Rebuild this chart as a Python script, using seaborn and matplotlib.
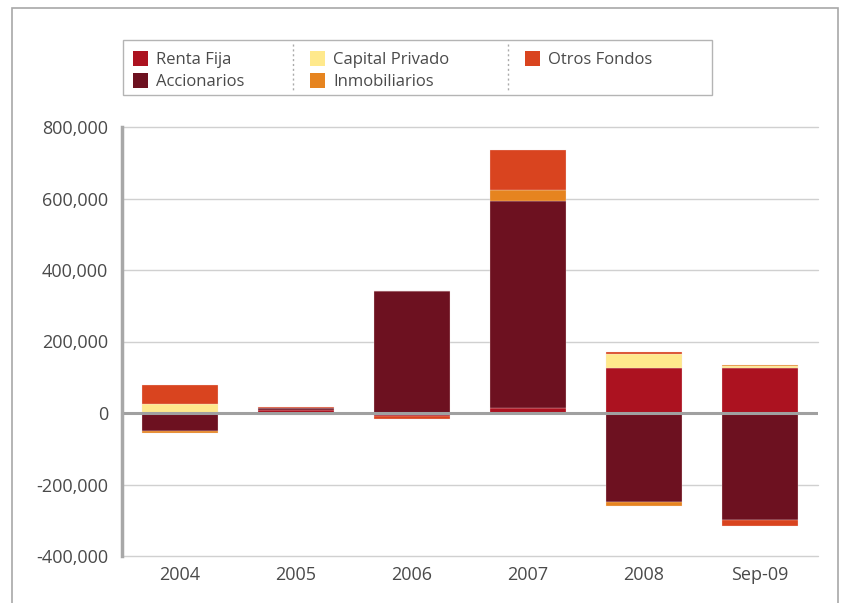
import matplotlib
matplotlib.use("Agg")
import matplotlib.pyplot as plt
import seaborn as sns
import numpy as np
import pandas as pd
from matplotlib.patches import Rectangle
from matplotlib.lines import Line2D
from matplotlib.ticker import FuncFormatter

categories = ["2004", "2005", "2006", "2007", "2008", "Sep-09"]
series_names = ["Renta Fija", "Accionarios", "Capital Privado", "Inmobiliarios", "Otros Fondos"]
renta_fija = [0, 8000, -8000, 14000, 126000, 127000]
accionarios = [-50000, 5000, 340000, 578000, -248000, -298000]
capital_privado = [26000, 0, 0, -2000, 39000, 4000]
inmobiliarios = [-6000, -6000, 0, 31000, -12000, 3000]
otros_fondos = [52000, 3000, -9000, 114000, 6000, -19000]
colors = ["#AC1220", "#6D1120", "#FFE98C", "#E6841F", "#D9441F"]
y_ticks = [-400000, -200000, 0, 200000, 400000, 600000, 800000]

sns.set_theme(style="white")
plt.rcParams['font.family'] = ['Open Sans', 'DejaVu Sans']

W, H = 845, 603
fig = plt.figure(figsize=(W / 100, H / 100), dpi=100)
ax = fig.add_axes([122 / W, 1 - 556 / H, (818 - 122) / W, (556 - 127) / H])

series = [renta_fija, accionarios, capital_privado, inmobiliarios, otros_fondos]
pos_base = np.zeros(len(categories))
neg_base = np.zeros(len(categories))
for name, vals, col in zip(series_names, series, colors):
    v = np.array(vals, dtype=float)
    bottoms = np.where(v >= 0, pos_base, neg_base)
    df = pd.DataFrame({"cat": categories, "val": v})
    sns.barplot(data=df, x="cat", y="val", bottom=bottoms, color=col, width=0.65,
                edgecolor="#f4e6e6", linewidth=0.2, saturation=1, ax=ax, label=name)
    pos_base = pos_base + np.where(v >= 0, v, 0)
    neg_base = neg_base + np.where(v < 0, v, 0)

ax.set_ylim(-400000, 800000)
ax.set_xlim(-0.5, len(categories) - 0.5)
ax.set_yticks(y_ticks)
ax.yaxis.set_major_formatter(FuncFormatter(lambda x, p: f"{int(x):,}"))
for y in y_ticks:
    if y != 0:
        ax.axhline(y, color="#d0d0d0", lw=1.0, zorder=0, clip_on=False)
ax.axhline(0, color="#a0a0a0", lw=2.2, zorder=5)
for s in ["top", "right", "bottom"]:
    ax.spines[s].set_visible(False)
ax.spines["left"].set_color("#a8a8a8")
ax.spines["left"].set_linewidth(2.5)
ax.spines["left"].set_zorder(6)
ax.set_xlabel("")
ax.set_ylabel("")
ax.tick_params(axis="both", length=0, labelsize=13, colors="#4a4a4a")
ax.tick_params(axis="x", pad=7)
ax.tick_params(axis="y", pad=10)
if ax.get_legend():
    ax.get_legend().remove()

# outer frame
fig.add_artist(Rectangle((12 / W, -0.1), (838 - 12) / W, 1.1 - 8 / H,
                         transform=fig.transFigure, fill=False, edgecolor="#a8a8a8", lw=1.2))

# legend box laid out like the reference
fig.add_artist(Rectangle((123 / W, 1 - 95 / H), (712 - 123) / W, (95 - 40) / H,
                         transform=fig.transFigure, fill=False, edgecolor="#b4b4b4", lw=1.0))
marker_x = [133, 133, 310, 310, 525]
row_y = [58, 80, 58, 80, 58]
for name, col, mx, ry in zip(series_names, colors, marker_x, row_y):
    fig.add_artist(Rectangle((mx / W, 1 - (ry + 7.5) / H), 15 / W, 15 / H,
                             transform=fig.transFigure, facecolor=col, edgecolor="none"))
    fig.text((mx + 23) / W, 1 - ry / H, name, fontsize=12, color="#4a4a4a",
             va="center_baseline", ha="left")
for xs in [293, 508]:
    fig.add_artist(Line2D([xs / W, xs / W], [1 - 44 / H, 1 - 92 / H],
                          transform=fig.transFigure, color="#aaaaaa", lw=1.0, ls=(0, (1.5, 2))))

fig.savefig("out.png", dpi=100)
